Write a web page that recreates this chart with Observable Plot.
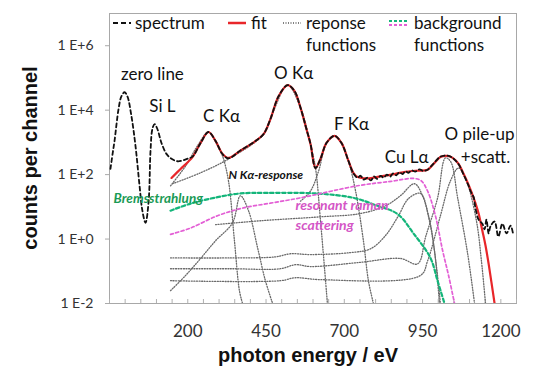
<!DOCTYPE html>
<html><head><meta charset="utf-8">
<script src="https://cdn.jsdelivr.net/npm/d3@7"></script>
<script src="https://cdn.jsdelivr.net/npm/@observablehq/plot@0.6"></script>
<style>
body{margin:0;background:#fff;}
#wrap{position:relative;width:536px;height:369px;font-family:Lato,"Open Sans",sans-serif;}
#wrap > svg{position:absolute;left:0;top:0;}
.lg{position:absolute;font-size:17px;color:#111;line-height:22px;white-space:nowrap;}
.sw{position:absolute;}
.ax{position:absolute;font-family:"Liberation Sans",Arial,sans-serif;font-weight:bold;font-size:20px;color:#111;white-space:nowrap;}
</style></head><body>
<div id="wrap"></div>
<script>
// ---- data: [photon energy (eV), counts per channel]
const spectrum = [[-47,150],[-40,450],[-34,1100],[-21,1.1e4],[-12,2.7e4],[-2,3.6e4],[7,2.7e4],[20,6.6e3],[33,780],[46,45],[55,7.6],[65,3.2],[75,15],[81,550],[87,2600],[94,3700],[103,2600],[116,960],[132,440],[148,310],[167,260],[186,280],[202,320],[215,360],[241,960],[266,2100],[289,1100],[311,430],[330,320],[368,560],[416,1100],[442,1800],[464,5300],[490,2.7e4],[519,6.0e4],[541,3.9e4],[560,1.2e4],[579,2600],[592,900],[608,160],[624,310],[643,950],[669,1600],[691,950],[713,270],[729,110],[742,80],[752,92],[762,70],[774,80],[785,66],[795,88],[805,74],[816,92],[826,80],[836,100],[846,86],[856,110],[866,95],[876,118],[886,104],[895,126],[905,114],[915,135],[927,124],[940,146],[952,130],[966,142],[985,220],[1007,360],[1030,390],[1046,330],[1065,210],[1081,100],[1097,45],[1103,31],[1113,20],[1119,9],[1129,4],[1141,3],[1148,2],[1154,4],[1161,1.5],[1167,2.5],[1180,3.5],[1192,1.2],[1205,3],[1218,1.5],[1231,2.6],[1240,1.3]];
const fit = [[148,79],[177,150],[215,350],[241,960],[266,2100],[289,1100],[311,440],[330,330],[368,550],[416,1100],[442,1800],[464,5300],[490,2.7e4],[519,6.0e4],[541,3.9e4],[560,1.2e4],[579,2600],[592,890],[608,160],[624,310],[643,960],[669,1600],[691,960],[713,270],[729,114],[742,85],[774,76],[816,88],[863,106],[895,123],[927,132],[966,142],[985,215],[1007,350],[1030,380],[1046,330],[1065,215],[1081,106],[1097,48],[1113,19],[1129,6.2],[1141,1.8],[1151,0.63],[1161,0.17],[1170,0.045],[1180,0.01]];
const respCKa = [[145,45],[193,185],[231,780],[266,2100],[295,780],[311,380],[330,64],[349,0.9],[365,0.025],[375,0.01]];
const respNKa = [[145,0.025],[193,0.074],[241,0.25],[289,0.89],[343,3.2],[368,22],[394,7.6],[423,0.54],[448,0.051],[471,0.01]];
const respOKa = [[151,52],[241,114],[336,330],[442,1800],[474,9600],[519,6e4],[560,1.2e4],[592,890],[608,160],[624,3.7],[646,0.01]];
const respFKa = [[560,15],[592,31],[618,130],[643,960],[669,1600],[691,960],[713,270],[736,31],[761,0.89],[777,0.051],[793,0.01]];
const respCuLa = [[289,2.8],[432,3.7],[624,4.9],[752,6.2],[832,10.8],[879,22],[924,52],[950,22],[975,2.6],[994,0.15],[1007,0.01]];
const respCuLb = [[145,0.26],[336,0.26],[480,0.28],[528,0.35],[592,0.33],[720,0.38],[784,0.5],[832,1.3],[873,5.3],[905,18],[943,26],[969,5.3],[988,0.44],[1004,0.01]];
const respPileUp = [[145,0.12],[336,0.12],[496,0.12],[544,0.16],[592,0.14],[752,0.19],[879,0.25],[934,0.17],[960,1.2],[998,19],[1023,330],[1040,250],[1062,19],[1094,0.35],[1116,0.01]];
const respScatt = [[145,0.051],[496,0.051],[544,0.063],[624,0.055],[943,0.074],[966,0.21],[1007,5.3],[1039,64],[1065,160],[1090,64],[1122,3.7],[1138,0.21],[1151,0.01]];
const bremsstrahlung = [[145,7.6],[209,12.6],[295,20],[368,26],[451,27],[611,26],[729,19],[803,11],[870,6],[921,1.5],[975,0.26],[998,0.05],[1020,0.01]];
const resonantRaman = [[145,1.4],[209,2.2],[295,5.3],[378,9.3],[464,13],[560,19],[742,45],[850,62],[921,76],[945,65],[966,31],[991,5.3],[1014,0.44],[1033,0.074],[1052,0.01]];

const peakLabels = ["zero line","Si L","C Kα","O Kα","F Kα","Cu Lα","O pile-up","+scatt."];
const peakLabelE = [87,119,308,538,723,899,1132,1151];
const peakLabelC = [1.3e5,1.3e4,6.2e3,1.4e5,3.7e3,330,1.8e3,330];
const noteLabels = ["N Kα-response","Bremsstrahlung","resonant raman","scattering"];
const noteLabelE = [330,-37,544,544];
const noteLabelC = [98,18,11,2.6];

const xTickValues = [200,450,700,950,1200];
const xMinorTicks = d3.range(-50,1251,50);
const yTickValues = [1e-2,1,1e2,1e4,1e6];
const yTickText = ["1 E-2","1 E+0","1 E+2","1 E+4","1 E+6"];

const responses = [respCKa,respNKa,respOKa,respFKa,respCuLa,respCuLb,respPileUp,respScatt];
const toRows = a => a.map(([e,c]) => ({e,c}));

const peakRows = peakLabels.map((t,i)=>({t,e:peakLabelE[i],c:peakLabelC[i]}));
const noteRows = noteLabels.map((t,i)=>({t,e:noteLabelE[i],c:noteLabelC[i]}));

const chart = Plot.plot({
  width:536, height:369,
  marginLeft:109, marginRight:20, marginTop:13, marginBottom:66,
  style:{fontFamily:"Lato, 'Open Sans', sans-serif", background:"transparent", color:"#222"},
  x:{domain:[-50,1250]},
  y:{type:"log", domain:[0.01,1e7]},
  marks:[
    Plot.frame({stroke:"#a8a8a8"}),
    Plot.tickX(xMinorTicks,{stroke:"#b0b0b0", insetTop:286}),
    Plot.axisX(xTickValues,{tickSize:0, tickPadding:21, fontSize:17, color:"#333", label:null, tickFormat:d=>String(d)}),
    Plot.axisY(yTickValues,{tickSize:4, tickPadding:12, fontSize:14, color:"#333", stroke:"#aaa", label:null,
      tickFormat:(d)=>yTickText[yTickValues.indexOf(d)]}),
    ...responses.map(r => Plot.line(toRows(r),{x:"e", y:"c", stroke:"#6a6a6a", strokeWidth:1.3, strokeDasharray:"1,1.6", curve:"catmull-rom", clip:true})),
    Plot.line(toRows(bremsstrahlung),{x:"e", y:"c", stroke:"#14b57a", strokeWidth:2.2, strokeDasharray:"3.5,2.5", curve:"catmull-rom", clip:true}),
    Plot.line(toRows(resonantRaman),{x:"e", y:"c", stroke:"#e35fd5", strokeWidth:1.7, strokeDasharray:"3,2.5", curve:"catmull-rom", clip:true}),
    Plot.line(toRows(fit),{x:"e", y:"c", stroke:"#e8262a", strokeWidth:2.2, curve:"catmull-rom", clip:true}),
    Plot.line(toRows(spectrum),{x:"e", y:"c", stroke:"#111", strokeWidth:1.8, strokeDasharray:"4,3", curve:"catmull-rom", clip:true}),
    Plot.text(peakRows,{x:"e", y:"c", text:"t", fontSize:17, fill:"#111"}),
    Plot.text(noteRows.slice(0,1),{x:"e", y:"c", text:"t", fontSize:12, fontStyle:"italic", fontWeight:"bold", fill:"#111", textAnchor:"start"}),
    Plot.text(noteRows.slice(1,2),{x:"e", y:"c", text:"t", fontSize:13.5, fontStyle:"italic", fontWeight:"bold", fill:"#1a9a55", textAnchor:"start"}),
    Plot.text(noteRows.slice(2),{x:"e", y:"c", text:"t", fontSize:14, fontStyle:"italic", fontWeight:"bold", fill:"#d456c6", textAnchor:"start"})
  ]
});

const wrap = document.getElementById("wrap");
wrap.appendChild(chart);

const legend = `
<svg class="sw" style="left:112px;top:17px" width="20" height="12"><line x1="1" y1="6" x2="19" y2="6" stroke="#111" stroke-width="2" stroke-dasharray="5,3"/></svg>
<div class="lg" style="left:135px;top:12px">spectrum</div>
<svg class="sw" style="left:227px;top:17px" width="20" height="12"><line x1="1" y1="6" x2="19" y2="6" stroke="#e8262a" stroke-width="2.5"/></svg>
<div class="lg" style="left:251px;top:12px">fit</div>
<svg class="sw" style="left:282px;top:17px" width="20" height="12"><line x1="1" y1="6" x2="19" y2="6" stroke="#555" stroke-width="1.3" stroke-dasharray="1,1.5"/></svg>
<div class="lg" style="left:306px;top:12px">reponse<br>functions</div>
<svg class="sw" style="left:388px;top:17px" width="22" height="12"><line x1="1" y1="4" x2="21" y2="4" stroke="#14b57a" stroke-width="2" stroke-dasharray="3,2"/><line x1="1" y1="8" x2="21" y2="8" stroke="#e35fd5" stroke-width="2" stroke-dasharray="3,2"/></svg>
<div class="lg" style="left:414px;top:12px">background<br>functions</div>
<div class="ax" style="left:30px;top:158px;transform:translate(-50%,-50%) rotate(-90deg)">counts per channel</div>
<div class="ax" style="left:308px;top:355px;transform:translate(-50%,-50%)">photon energy / eV</div>`;
wrap.insertAdjacentHTML("beforeend", legend);
</script>
</body></html>
